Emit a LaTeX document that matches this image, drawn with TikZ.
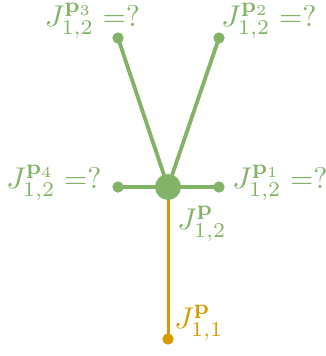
\documentclass[tikz,border=0pt]{standalone}
\usepackage{graphicx}
\usepackage{amsmath}
\definecolor{gr}{HTML}{82B366}
\definecolor{og}{HTML}{D79B00}
\newcommand{\mylbl}[1]{\scalebox{3.0}{#1}}
\begin{document}
\begin{tikzpicture}[x=1pt,y=-1pt,
  dot/.style={circle,fill=#1,inner sep=0pt,minimum size=11pt},
  lbl/.style={text=#1,inner sep=0pt},
  gline/.style={draw=gr,line width=3.8pt},
  oline/.style={draw=og,line width=3pt}]
\useasboundingbox (0,0) rectangle (326,356);
\node[dot=og] (b) at (168,339) {};
\node[dot=gr] (tl) at (118,38) {};
\node[dot=gr] (tr) at (219,38) {};
\node[dot=gr] (l) at (118,187) {};
\node[dot=gr] (r) at (219,187) {};
\draw[oline] (168,187) -- (b.center);
\draw[gline] (168,187) -- (tl.center);
\draw[gline] (168,187) -- (tr.center);
\draw[gline] (l.center) -- (r.center);
\node[circle,fill=gr,inner sep=0pt,minimum size=26pt] (c) at (168,187) {};
\node[dot=og] at (b) {};
\node[dot=gr] at (tl) {};
\node[dot=gr] at (tr) {};
\node[dot=gr] at (l) {};
\node[dot=gr] at (r) {};
\node[lbl=gr] (ltl) at (92.5,21) {\mylbl{$J^{\mathbf{p}_3}_{1,2}=?$}};
\node[lbl=gr] (ltr) at (269,21) {\mylbl{$J^{\mathbf{p}_2}_{1,2}=?$}};
\node[lbl=gr] (ll) at (54,183) {\mylbl{$J^{\mathbf{p}_4}_{1,2}=?$}};
\node[lbl=gr] (lr) at (280,183) {\mylbl{$J^{\mathbf{p}_1}_{1,2}=?$}};
\node[lbl=gr] (lc) at (202,224) {\mylbl{$J^{\mathbf{p}}_{1,2}$}};
\node[lbl=og] (lb) at (199,323) {\mylbl{$J^{\mathbf{p}}_{1,1}$}};
\end{tikzpicture}
\end{document}
